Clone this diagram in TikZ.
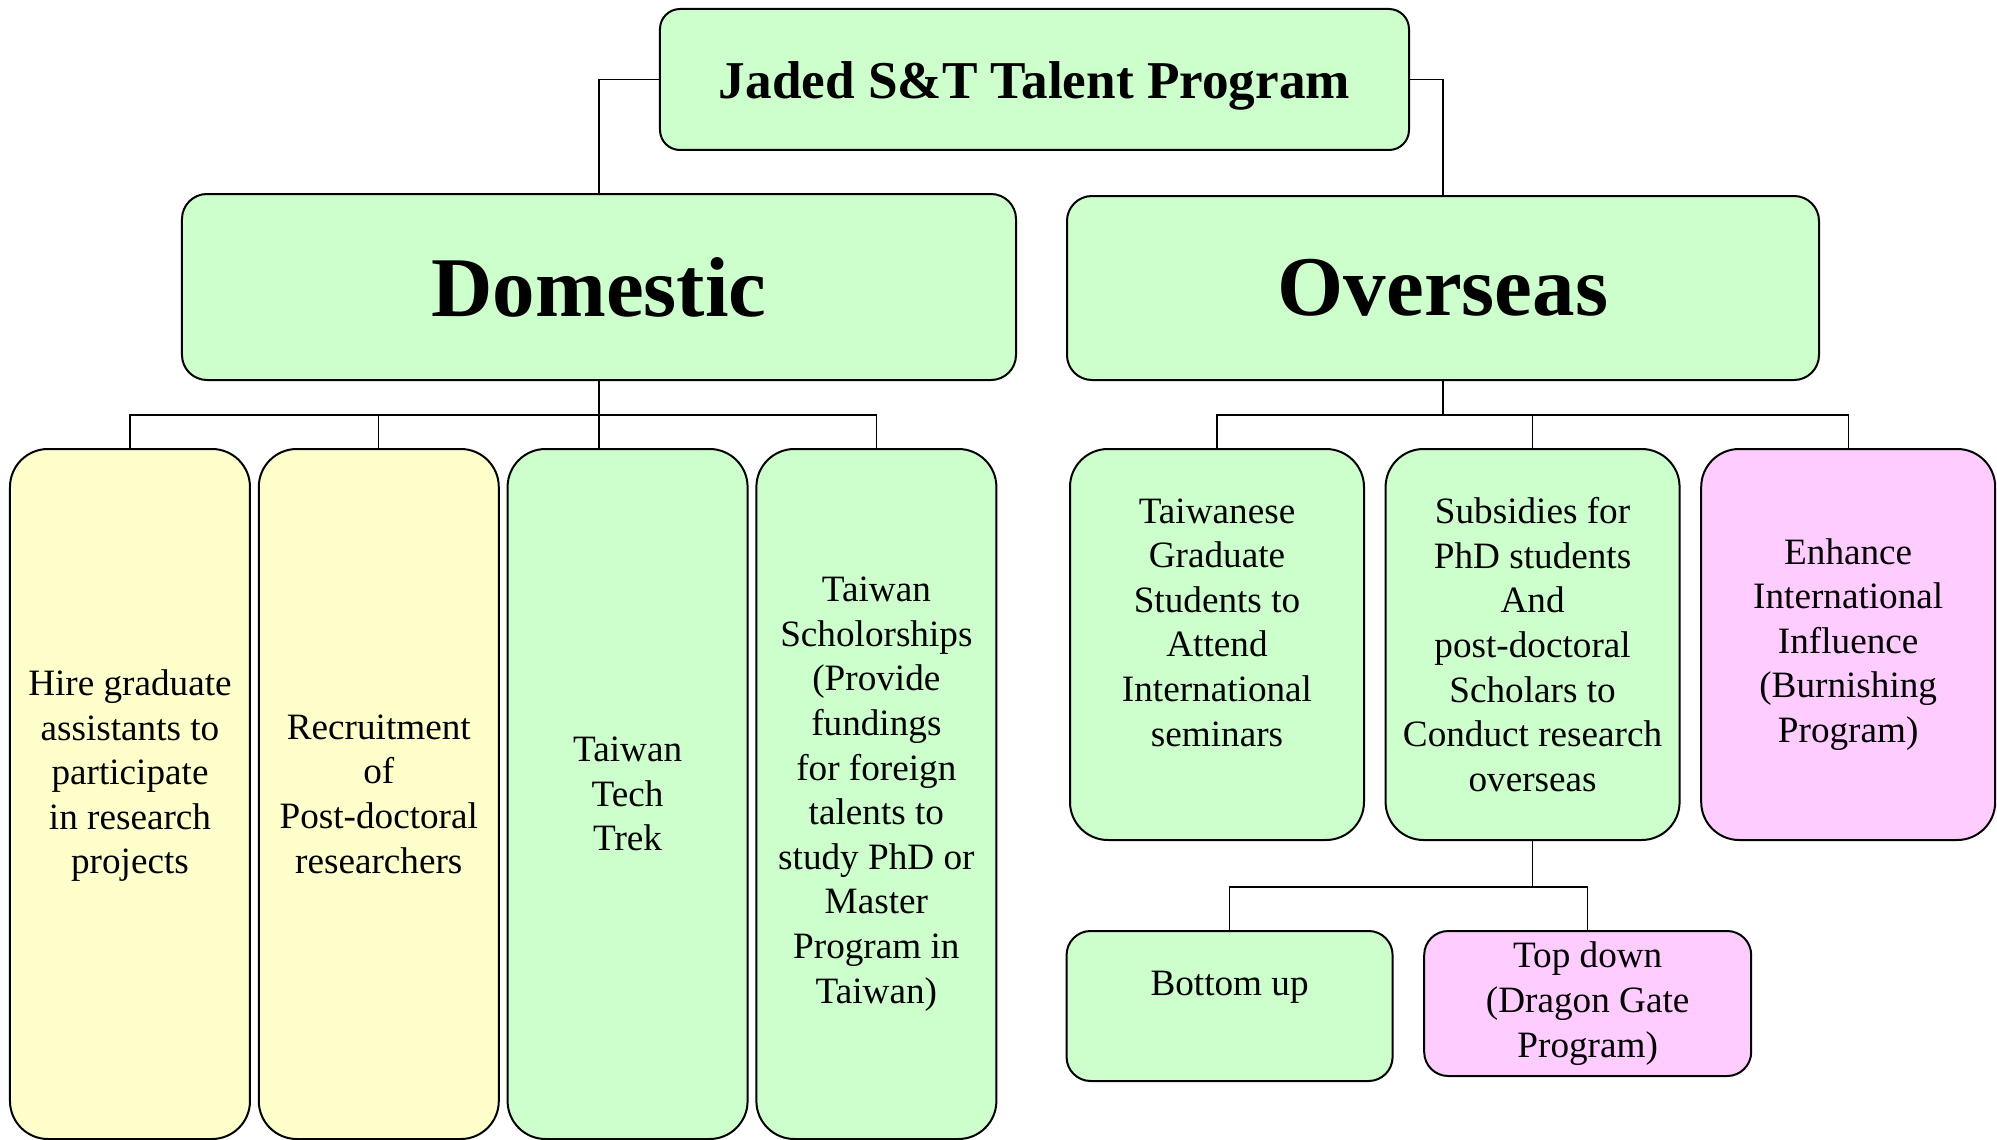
\documentclass[tikz,border=0pt]{standalone}
\usepackage{fontspec}
\setmainfont{Liberation Serif}
\usetikzlibrary{positioning}
\definecolor{mintgreen}{HTML}{CCFFCC}
\definecolor{paleyellow}{HTML}{FFFFCC}
\definecolor{palepink}{HTML}{FFCCFF}

\begin{document}
\begin{tikzpicture}[box/.style={draw, line width=1pt, align=center, inner sep=0pt},
  level/.style={box, fill=mintgreen, rounded corners=12.5pt, minimum width=#1, minimum height=93pt, font=\fontsize{42.5}{51}\selectfont\bfseries},
  item/.style={box, rounded corners=19pt, font=\fontsize{18.6}{22.3}\selectfont},
  column/.style={item, fill=#1, minimum width=120pt, minimum height=345pt},
  card/.style={item, fill=#1, minimum width=147pt, minimum height=195.5pt},
  wire/.style={line width=0.7pt}]

\useasboundingbox (-517.25pt,39.75pt) rectangle (481.25pt,-530.25pt);

% PROGRAM

\node [box, fill=mintgreen, rounded corners=10pt, minimum width=374.5pt, minimum height=70.5pt, text height=22pt, text depth=2.6pt, font=\fontsize{26.6}{31}\selectfont\bfseries] (program) {Jaded S\&T Talent Program};

\node [level=417pt, below=21pt of program, xshift=-217.75pt] (domestic) {Domestic};

\node [level=376pt, below=22pt of program, xshift=204.25pt, minimum height=92pt] (overseas) {Overseas};

% DOMESTIC

\node [column=paleyellow, below=33.5pt of domestic, xshift=-234.5pt] (hire)
{Hire graduate\\ assistants to\\ participate\\ in research\\ projects\\ ~};

\node [column=paleyellow, right=3.4pt of hire] (postdoc)
{Recruitment\\ of\\ Post-doctoral\\ researchers};

\node [column=mintgreen, right=3.4pt of postdoc] (techtrek)
{Taiwan\\ Tech\\ Trek};

\node [column=mintgreen, right=3.4pt of techtrek] (scholarship)
{Taiwan\\ Scholorships\\ (Provide\\ fundings\\ for foreign\\ talents to\\ study PhD or\\ Master\\ Program in\\ Taiwan)};

% OVERSEAS

\node [card=mintgreen, below=33.5pt of overseas, xshift=-113pt] (seminars)
{Taiwanese\\ Graduate\\ Students to\\ Attend\\ International\\ seminars\\ ~};

\node [card=mintgreen, right=9.8pt of seminars] (subsidies)
{Subsidies for\\ PhD students\\ And\\ post-doctoral\\ Scholars to\\ Conduct research\\ overseas};

\node [card=palepink, right=9.8pt of subsidies] (burnishing)
{Enhance\\ International\\ Influence\\ (Burnishing\\ Program)};

\node [item, fill=mintgreen, rounded corners=12pt, minimum width=163pt, minimum height=75pt, below=44.5pt of subsidies, xshift=-151.5pt] (bottomup)
{Bottom up\\ ~};

\node [item, fill=palepink, rounded corners=12pt, minimum width=163.5pt, minimum height=72.5pt, right=14.8pt of bottomup.north east, anchor=north west] (topdown)
{Top down\\ (Dragon Gate\\ Program)};

% LINKS

\draw [wire] (program.west) -| (domestic.north);
\draw [wire] (program.east) -| (overseas.north);

\draw [wire] (domestic.south) -- ++(0,-17pt) coordinate (dombus);
\foreach \n in {hire, postdoc, scholarship}
  \draw [wire] (dombus) -| (\n.north);
\draw [wire] (dombus) -- (techtrek.north -| dombus);

\draw [wire] (overseas.south) -- ++(0,-17pt) coordinate (ovsbus);
\foreach \n in {seminars, subsidies, burnishing}
  \draw [wire] (ovsbus) -| (\n.north);

\draw [wire] (subsidies.south) -- ++(0,-23pt) coordinate (subbus);
\foreach \n in {bottomup, topdown}
  \draw [wire] (subbus) -| (\n.north);

\end{tikzpicture}
\end{document}
